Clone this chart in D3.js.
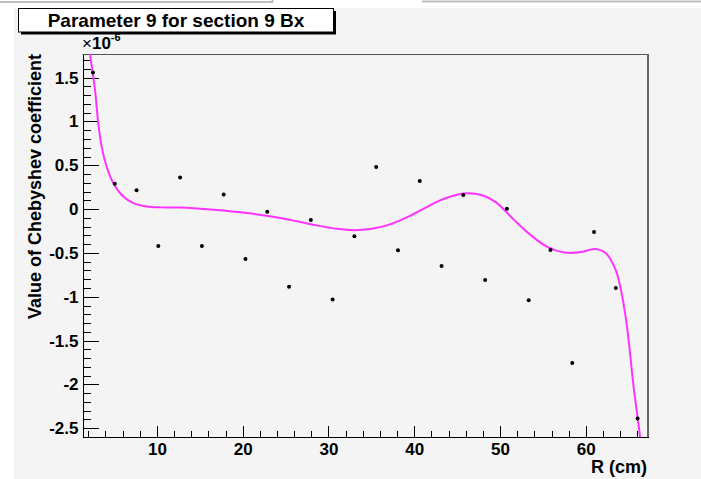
<!DOCTYPE html>
<html>
<head>
<meta charset="utf-8">
<script src="https://cdn.jsdelivr.net/npm/d3@7"></script>
<style>
    html, body { margin: 0; padding: 0; background: #ffffff; }
    svg { display: block; font-family: 'Liberation Sans', Arial, Helvetica, sans-serif; }
    .axis text { font-weight: bold; font-size: 17px; fill: #000; }
    .axis path, .axis line { stroke: #000; shape-rendering: crispEdges; }
</style>
</head>
<body>
<div id="chart"></div>
<script>
// Measured points: radius in cm, coefficient in units of 1e-6
const radius = [2.54, 5.08, 7.62, 10.16, 12.70, 15.24, 17.78, 20.32, 22.86, 25.40,
    27.94, 30.48, 33.02, 35.56, 38.10, 40.64, 43.18, 45.72, 48.26, 50.80,
    53.34, 55.88, 58.42, 60.96, 63.50, 66.04];
const coeff = [1.56, 0.29, 0.216, -0.42, 0.36, -0.42, 0.166, -0.57, -0.03, -0.886,
    -0.125, -1.03, -0.31, 0.48, -0.47, 0.32, -0.65, 0.16, -0.81, 0.003,
    -1.04, -0.466, -1.755, -0.26, -0.90, -2.39];

// Fitted Chebyshev curve
const fitR = [1.5, 2.2, 2.78, 3.16, 3.56, 4.14, 4.92, 6.08, 7.25, 8.8, 10.5, 12.7,
    16.6, 20.5, 24.4, 28.3, 31.0, 33.0, 35.0, 37.0, 39.0, 41.0, 43.0, 45.0, 46.5,
    48.0, 49.5, 51.6, 53.5, 55.5, 57.5, 59.5, 61.0, 62.3, 63.5, 64.6, 65.6, 66.3, 66.7];
const fitVal = [2.35, 1.77, 1.36, 0.977, 0.71, 0.484, 0.295, 0.143, 0.068, 0.03, 0.02, 0.018,
    -0.008, -0.045, -0.10, -0.18, -0.225, -0.24, -0.225, -0.18, -0.1, 0.0, 0.1, 0.165, 0.18,
    0.155, 0.08, -0.12, -0.29, -0.43, -0.495, -0.49, -0.455, -0.5, -0.7, -1.2, -2.05, -2.58, -3.0];

// Axis ticks
const xMajorTicks = [10, 20, 30, 40, 50, 60];
const xMinorTicks = [2, 4, 6, 8, 12, 14, 16, 18, 22, 24, 26, 28, 32, 34, 36, 38,
    42, 44, 46, 48, 52, 54, 56, 58, 62, 64, 66];
const yMajorTicks = [-2.5, -2, -1.5, -1, -0.5, 0, 0.5, 1, 1.5];
const yMinorTicks = [-2.6, -2.4, -2.3, -2.2, -2.1, -1.9, -1.8, -1.7, -1.6, -1.4, -1.3, -1.2, -1.1,
    -0.9, -0.8, -0.7, -0.6, -0.4, -0.3, -0.2, -0.1, 0.1, 0.2, 0.3, 0.4, 0.6, 0.7, 0.8, 0.9,
    1.1, 1.2, 1.3, 1.4, 1.6, 1.7];

const titleText = 'Parameter 9 for section 9 Bx';
const xTitle = 'R (cm)';
const yTitle = 'Value of Chebyshev coefficient';

const width = 701;
const height = 479;
const plot = {left: 82.5, top: 54, right: 648, bottom: 437};

const svg = d3.select('#chart')
  .append('svg')
    .attr('width', width)
    .attr('height', height);

// canvas background
svg.append('rect')
    .attr('x', 14).attr('y', 8)
    .attr('width', width - 14).attr('height', height - 8)
    .attr('fill', '#f4f4f4');

// bits of window chrome along the top edge
svg.append('path')
    .attr('d', 'M0,2H272.5V0 M422,1.5H701')
    .attr('fill', 'none')
    .attr('stroke', '#bdbdbd')
    .attr('stroke-width', 2);

const xScale = d3.scaleLinear()
    .domain([1.32, 67.25])
    .range([plot.left, plot.right]);

const yScale = d3.scaleLinear()
    .domain([-2.6, 1.77])
    .range([plot.bottom, plot.top]);

const plotH = plot.bottom - plot.top;
const plotW = plot.right - plot.left;

// frame (top and right)
svg.append('line')
    .attr('x1', plot.left).attr('x2', plot.right)
    .attr('y1', plot.top + 0.5).attr('y2', plot.top + 0.5)
    .attr('stroke', '#555').attr('stroke-width', 1);
svg.append('line')
    .attr('x1', plot.right).attr('x2', plot.right)
    .attr('y1', plot.top).attr('y2', plot.bottom)
    .attr('stroke', '#666').attr('stroke-width', 2);

// minor ticks
svg.append('g')
    .attr('class', 'axis')
    .attr('transform', `translate(0,${plot.bottom})`)
    .call(d3.axisBottom(xScale).tickValues(xMinorTicks).tickSize(-0.015 * plotH).tickFormat(''))
    .call(g => g.select('.domain').remove());

svg.append('g')
    .attr('class', 'axis')
    .attr('transform', `translate(${plot.left},0)`)
    .call(d3.axisLeft(yScale).tickValues(yMinorTicks).tickSize(-0.015 * plotW).tickFormat(''))
    .call(g => g.select('.domain').remove());

// major ticks with labels
svg.append('g')
    .attr('class', 'axis')
    .attr('transform', `translate(0,${plot.bottom})`)
    .call(d3.axisBottom(xScale)
        .tickValues(xMajorTicks)
        .tickSize(-0.03 * plotH)
        .tickSizeOuter(0)
        .tickPadding(6)
        .tickFormat(d => String(d)));

svg.append('g')
    .attr('class', 'axis')
    .attr('transform', `translate(${plot.left},0)`)
    .call(d3.axisLeft(yScale)
        .tickValues(yMajorTicks)
        .tickSize(-0.03 * plotW)
        .tickSizeOuter(0)
        .tickPadding(4)
        .tickFormat(d => String(d)));

// exponent label
const expo = svg.append('text')
    .attr('x', 82)
    .attr('y', 49)
    .attr('font-weight', 'bold')
    .attr('font-size', 17);
expo.append('tspan').attr('font-weight', 'normal').text('\u00d7');
expo.append('tspan').text('10');
expo.append('tspan')
    .attr('font-size', 11)
    .attr('dy', -8)
    .text('-6');

// axis titles
svg.append('text')
    .attr('x', plot.right - 1)
    .attr('y', 473)
    .attr('text-anchor', 'end')
    .attr('font-weight', 'bold')
    .attr('font-size', 18)
    .text(xTitle);

svg.append('text')
    .attr('transform', `translate(41,${plot.top}) rotate(-90)`)
    .attr('text-anchor', 'end')
    .attr('font-weight', 'bold')
    .attr('font-size', 18)
    .text(yTitle);

// fit curve
svg.append('clipPath')
    .attr('id', 'plot-clip')
  .append('rect')
    .attr('x', plot.left).attr('y', plot.top)
    .attr('width', plotW).attr('height', plotH);

const fitData = fitR.map((r, i) => ({r, v: fitVal[i]}));
const line = d3.line()
    .x(d => xScale(d.r))
    .y(d => yScale(d.v))
    .curve(d3.curveCatmullRom.alpha(0.5));

svg.append('path')
    .datum(fitData)
    .attr('clip-path', 'url(#plot-clip)')
    .attr('fill', 'none')
    .attr('stroke', '#ff33ff')
    .attr('stroke-width', 2)
    .attr('d', line);

// points
svg.append('g')
    .selectAll('circle')
    .data(radius.map((r, i) => ({r, v: coeff[i]})))
  .enter()
  .append('circle')
    .attr('cx', d => xScale(d.r))
    .attr('cy', d => yScale(d.v))
    .attr('r', 2)
    .attr('fill', '#000');

// title box with shadow
svg.append('rect')
    .attr('x', 21).attr('y', 11)
    .attr('width', 315).attr('height', 23.5)
    .attr('fill', '#000');
svg.append('rect')
    .attr('x', 18.5).attr('y', 8.5)
    .attr('width', 315).attr('height', 23.5)
    .attr('fill', '#fff')
    .attr('stroke', '#000')
    .attr('stroke-width', 1);
svg.append('text')
    .attr('x', 176)
    .attr('y', 27)
    .attr('text-anchor', 'middle')
    .attr('font-weight', 'bold')
    .attr('font-size', 19)
    .text(titleText);
</script>
</body>
</html>
